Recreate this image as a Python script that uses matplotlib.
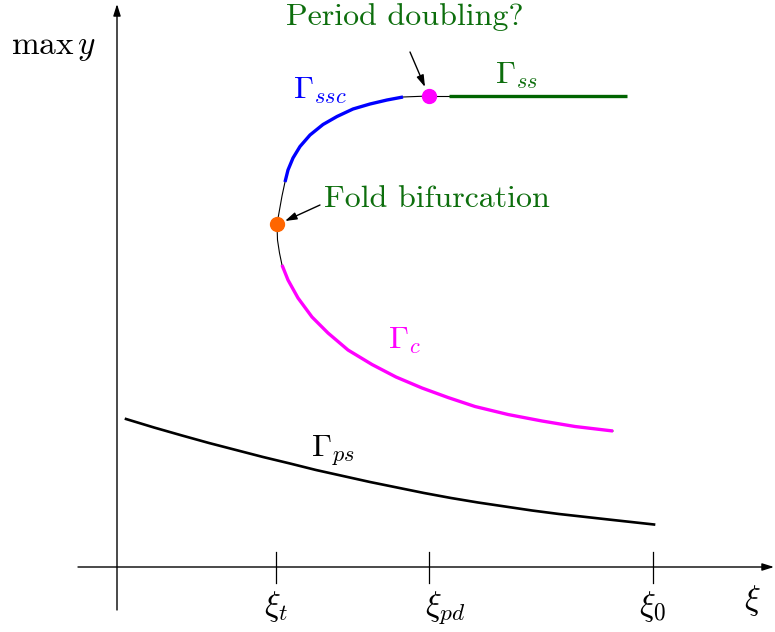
import matplotlib
matplotlib.use("Agg")
import matplotlib.pyplot as plt

plt.rcParams['mathtext.fontset'] = 'cm'
plt.rcParams['font.family'] = ['cmr10', 'DejaVu Serif']

# ---- data (schematic; x to the right, y downwards in pixel-like units)
ps_x = [126, 154, 182, 209, 236, 263, 290, 316, 343, 370, 397, 424, 451, 478, 505, 532, 559, 586, 613, 654]
ps_y = [419, 427.5, 435.5, 443, 450, 457, 463.5, 470, 476, 482, 487.5, 493, 498, 502.5, 506.5, 510.5,
        514, 517, 520, 524.5]

# upper branch, from the period-doubling point down to the fold
up_x = [429, 403, 387, 370, 353, 337, 323, 310, 300, 293, 288, 285, 282, 279.5, 277]
up_y = [96, 97, 100, 104, 109, 116.5, 124.5, 135, 146.5, 158, 170, 182, 196, 210, 224]
ssc_first, ssc_last = 1, 11  # blue (Gamma_ssc) portion of the upper branch

# lower branch, from the fold to the right end
lo_x = [277, 277.5, 279.5, 282, 288, 298, 312, 328, 348, 372, 396, 422, 448, 475, 508, 542, 575, 613]
lo_y = [224, 240, 253, 265, 280, 298, 317, 333, 350, 364.5, 377, 388, 397.5, 406.5, 414.5, 421, 426.5, 431]
c_first = 3  # magenta (Gamma_c) portion starts here

ss_x = [449, 627]
ss_y = [96, 96]

pd_point = (429, 96)
fold_point = (277, 224)

xi_ticks = [276, 429, 653]
xi_labels = [r'$\xi_t$', r'$\xi_{pd}$', r'$\xi_0$']
xi_label_shift = [0, 16, 0]

W, H = 775, 632
fig = plt.figure(figsize=(W / 100, H / 100), dpi=100)
ax = fig.add_axes([0, 0, 1, 1])
ax.set_xlim(0, W)
ax.set_ylim(H, 0)
ax.axis('off')

GREEN = '#006400'
TXTGREEN = '#0d6e0d'
BLUE = '#0000ff'
MAGENTA = '#ff00ff'
ORANGE = '#ff6600'

# coordinate axes with arrows
arrowkw = dict(arrowstyle='-|>,head_length=0.7,head_width=0.22', color='black', lw=1.0,
               shrinkA=0, shrinkB=0)
ax.annotate('', xy=(117, 4), xytext=(117, 610), arrowprops=arrowkw, annotation_clip=False)
ax.annotate('', xy=(774, 567), xytext=(78, 567), arrowprops=arrowkw, annotation_clip=False)

for xt, lab, sh in zip(xi_ticks, xi_labels, xi_label_shift):
    ax.plot([xt, xt], [552, 583], color='black', lw=0.9)
    ax.text(xt + sh, 589, lab, fontsize=24, ha='center', va='top')
ax.text(752, 600, r'$\xi$', fontsize=24, ha='center', va='center')
ax.text(54, 48, r'$\max\,y$', fontsize=24, ha='center', va='center')

# curves
ax.plot(up_x, up_y, color='black', lw=0.8, solid_joinstyle='round')
ax.plot(lo_x, lo_y, color='black', lw=0.8, solid_joinstyle='round')
ax.plot(ps_x, ps_y, color='black', lw=1.9, solid_joinstyle='round')
ax.plot(up_x[ssc_first:ssc_last + 1], up_y[ssc_first:ssc_last + 1], color=BLUE, lw=2.4,
        solid_capstyle='butt', solid_joinstyle='round')
ax.plot(lo_x[c_first:], lo_y[c_first:], color=MAGENTA, lw=2.4,
        solid_capstyle='butt', solid_joinstyle='round')
ax.plot([pd_point[0], ss_x[0]], [pd_point[1], ss_y[0]], color='black', lw=0.8)
ax.plot(ss_x, ss_y, color=GREEN, lw=2.4, solid_capstyle='butt')

ax.plot(*pd_point, 'o', color=MAGENTA, ms=10, zorder=5)
ax.plot(*fold_point, 'o', color=ORANGE, ms=10, zorder=5)

# labels
ax.text(320, 91, r'$\Gamma_{ssc}$', color=BLUE, fontsize=23, ha='center', va='center')
ax.text(517, 76, r'$\Gamma_{ss}$', color=TXTGREEN, fontsize=23, ha='center', va='center')
ax.text(404, 341, r'$\Gamma_{c}$', color=MAGENTA, fontsize=23, ha='center', va='center')
ax.text(333, 451, r'$\Gamma_{ps}$', color='black', fontsize=23, ha='center', va='center')

ax.text(405, 17, 'Period doubling?', color=TXTGREEN, fontsize=23, ha='center', va='center')
ax.text(437, 199, 'Fold bifurcation', color=TXTGREEN, fontsize=23, ha='center', va='center')

pkw = dict(arrowstyle='-|>,head_length=0.7,head_width=0.22', color='black', lw=1.0,
           shrinkA=0, shrinkB=0)
ax.annotate('', xy=(425, 87), xytext=(410, 52), arrowprops=pkw)
ax.annotate('', xy=(285, 221), xytext=(320, 205), arrowprops=pkw)

fig.savefig('out.png', dpi=100)
